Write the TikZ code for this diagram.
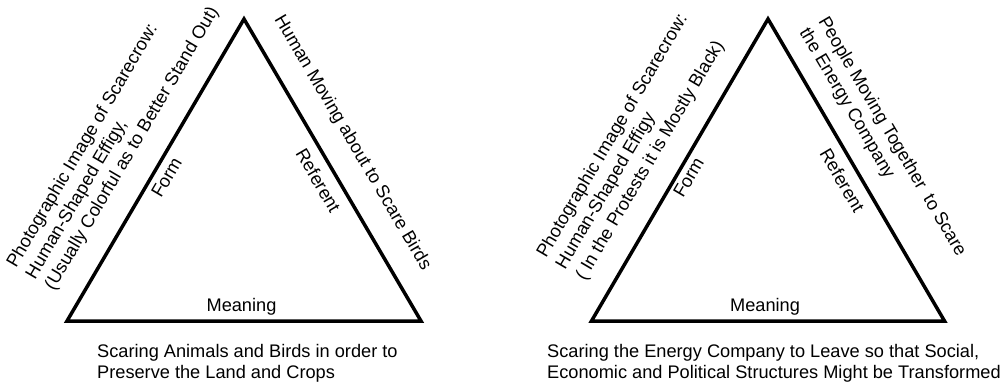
\documentclass[tikz,border=0pt]{standalone}
\usepackage{fontspec}
\setmainfont{Liberation Sans}
\begin{document}
\begin{tikzpicture}[x=1pt,y=1pt,
  tri/.style={line width=3.5pt, line join=miter},
  lbl/.style={inner sep=0pt, font=\fontsize{18.2}{22}\selectfont},
  upleft/.style={lbl, rotate=59.5, anchor=base west},
  downright/.style={lbl, rotate=-59.5, anchor=base west},
  flat/.style={lbl, anchor=base west}]
\useasboundingbox (0,0) rectangle (1006,381);

% ---- first triangle: the scarecrow in the field ----
\coordinate (a1) at (67,60);
\coordinate (b1) at (244,362);
\coordinate (c1) at (421,60);
\draw[tri] (a1) -- (b1) -- (c1) -- cycle;

\node[upleft] (ll1) at (16,112) {Photographic Image of Scarecrow:};
\node[upleft] (ll2) at (35,100.8) {Human-Shaped Effigy,};
\node[upleft] (ll3) at (53.9,89.7) {(Usually Colorful as to Better Stand Out)};
\node[upleft] (form1) at (161,182) {Form};
\node[downright] (ref1) at (295,227.5) {Referent};
\node[downright] (lr1) at (274,362) {Human Moving about to Scare Birds};
\node[lbl, anchor=base] (mean1) at (241.5,69.3) {Meaning};
\node[flat] (bt1a) at (97,24) {Scaring Animals and Birds in order to};
\node[flat] (bt1b) at (97,3) {Preserve the Land and Crops};

% ---- second triangle: the scarecrow in the protest ----
\coordinate (a2) at (591.5,60);
\coordinate (b2) at (768,362);
\coordinate (c2) at (944.5,60);
\draw[tri] (a2) -- (b2) -- (c2) -- cycle;

\node[upleft] (rl1) at (546,122) {Photographic Image of Scarecrow:};
\node[upleft] (rl2) at (565,110.8) {Human-Shaped Effigy};
\node[upleft] (rl3) at (584.9,99.7) {( In the Protests it is Mostly Black)};
\node[upleft] (form2) at (683,182) {Form};
\node[downright] (ref2) at (819,227.5) {Referent};
\node[downright] (rr1) at (818,360) {People Moving Together\ \ to Scare};
\node[downright] (rr2) at (799,348.8) {the Energy Company};
\node[lbl, anchor=base] (mean2) at (765,69.3) {Meaning};
\node[flat] (bt2a) at (547,24) {Scaring the Energy Company to Leave so that Social,};
\node[flat] (bt2b) at (547,3) {Economic and Political Structures Might be Transformed};
\end{tikzpicture}
\end{document}
